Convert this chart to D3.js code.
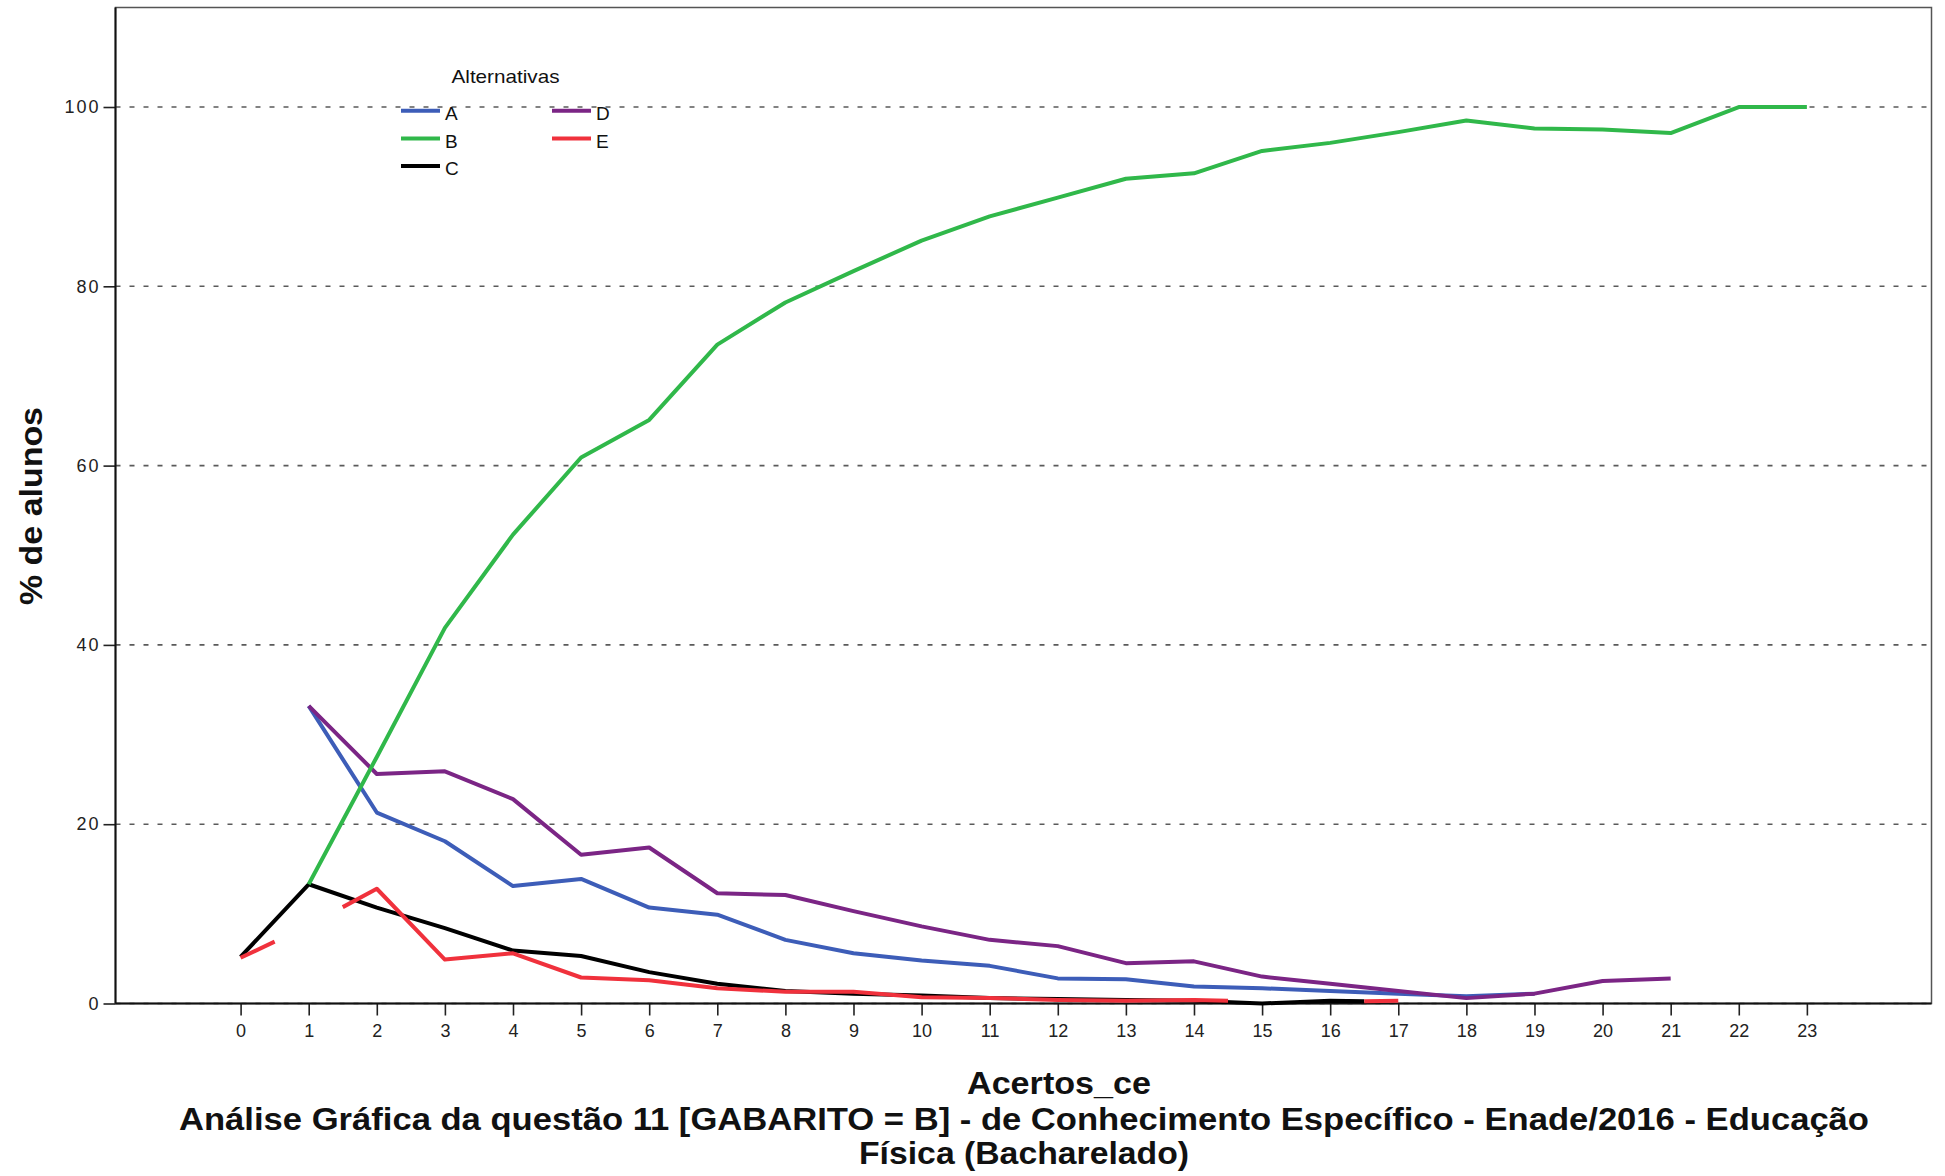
<!DOCTYPE html>
<html>
<head>
<meta charset="utf-8">
<script src="https://cdn.jsdelivr.net/npm/d3@7"></script>
<style>
  body { margin: 0; background: #fff; }
  svg { display: block; font-family: "Liberation Sans", Arial, sans-serif; }
</style>
</head>
<body>
<svg id="chart" width="1945" height="1176"></svg>
<script>
// Number of correct answers (Acertos_ce) on the x axis
const acertos = d3.range(0, 24);
const yTickValues = [0, 20, 40, 60, 80, 100];

// % of students choosing each alternative, per number of correct answers (null = no data)
const valuesA = [null, 33.2, 21.3, 18.1, 13.1, 13.9, 10.7, 9.9, 7.1, 5.6, 4.8, 4.2, 2.8, 2.7, 1.9, 1.7, 1.4, 1.1, 0.8, 1.1, null, null, null, null];
const valuesB = [null, 13.3, 27.5, 41.9, 52.3, 60.9, 65.1, 73.5, 78.2, 81.7, 85.1, 87.8, 89.9, 92.0, 92.6, 95.1, 96.0, 97.2, 98.5, 97.6, 97.5, 97.1, 100, 100];
const valuesC = [5.2, 13.3, 10.7, 8.4, 5.9, 5.3, 3.5, 2.2, 1.4, 1.1, 0.9, 0.6, 0.5, 0.4, 0.3, 0.0, 0.3, 0.2, null, null, null, null, null, null];
const valuesD = [null, 33.2, 25.6, 25.9, 22.8, 16.6, 17.4, 12.3, 12.1, 10.3, 8.6, 7.1, 6.4, 4.5, 4.7, 3.0, 2.2, 1.4, 0.6, 1.1, 2.5, 2.8, null, null];
const valuesE = [5.1, 8.7, 12.8, 4.9, 5.6, 2.9, 2.6, 1.7, 1.3, 1.3, 0.7, 0.6, 0.4, 0.3, 0.4, 0.2, 0.2, 0.3, null, null, null, null, null, null];

// Points whose marker is suppressed: only half of each adjoining segment is drawn
const hiddenC = [17];
const hiddenE = [1, 15, 16];

const legendTitle = "Alternativas";
const seriesNames = ["A", "B", "C", "D", "E"];

const colors = { A: "#3d5db8", B: "#30b84a", C: "#000000", D: "#7b2585", E: "#f0313c" };

const series = [
  { name: "A", values: valuesA, hidden: [] },
  { name: "B", values: valuesB, hidden: [] },
  { name: "C", values: valuesC, hidden: hiddenC },
  { name: "D", values: valuesD, hidden: [] },
  { name: "E", values: valuesE, hidden: hiddenE }
];

const xTitle = "Acertos_ce";
const yTitle = "% de alunos";
const titleLines = [
  "Análise Gráfica da questão 11 [GABARITO = B] - de Conhecimento Específico - Enade/2016 - Educação",
  "Física (Bacharelado)"
];

// ---- layout ----
const plot = { left: 115.5, right: 1931.5, top: 7.5, bottom: 1003.5 };

const x = d3.scaleLinear().domain([-1.837, 24.83]).range([plot.left, plot.right]);
const y = d3.scaleLinear().domain([0, 111.1]).range([plot.bottom, plot.top]);

const svg = d3.select("#chart");

// dashed horizontal grid
svg.append("g").selectAll("line").data(yTickValues).join("line")
  .attr("x1", plot.left).attr("x2", plot.right)
  .attr("y1", d => y(d)).attr("y2", d => y(d))
  .attr("stroke", "#5a5a5a").attr("stroke-width", 1.6)
  .attr("stroke-dasharray", "5,9");

// plot frame
svg.append("rect")
  .attr("x", plot.left).attr("y", plot.top)
  .attr("width", plot.right - plot.left).attr("height", plot.bottom - plot.top)
  .attr("fill", "none").attr("stroke", "#555").attr("stroke-width", 1.5);

// x axis
const xAxis = svg.append("g")
  .attr("transform", `translate(0,${plot.bottom})`)
  .call(d3.axisBottom(x).tickValues(acertos).tickFormat(d3.format("d"))
    .tickSize(12).tickSizeOuter(0).tickPadding(9));
xAxis.select(".domain").remove();
xAxis.selectAll(".tick line").attr("stroke", "#222").attr("stroke-width", 1.6);
xAxis.selectAll(".tick text").attr("font-size", 18).attr("fill", "#222")
  .attr("font-family", "Liberation Sans, Arial, sans-serif");

// y axis
const yAxis = svg.append("g")
  .attr("transform", `translate(${plot.left},0)`)
  .call(d3.axisLeft(y).tickValues(yTickValues).tickFormat(d3.format("d"))
    .tickSize(12).tickSizeOuter(0).tickPadding(3));
yAxis.select(".domain").remove();
yAxis.selectAll(".tick line").attr("stroke", "#222").attr("stroke-width", 1.6);
yAxis.selectAll(".tick text").attr("font-size", 18).attr("fill", "#222")
  .attr("letter-spacing", 2)
  .attr("font-family", "Liberation Sans, Arial, sans-serif");

// axis lines
svg.append("line").attr("x1", plot.left).attr("x2", plot.right)
  .attr("y1", plot.bottom).attr("y2", plot.bottom)
  .attr("stroke", "#111").attr("stroke-width", 2);
svg.append("line").attr("x1", plot.left).attr("x2", plot.left)
  .attr("y1", plot.top).attr("y2", plot.bottom)
  .attr("stroke", "#111").attr("stroke-width", 2);

// Build polylines from a value array, honouring gaps and suppressed points
function runs(values, hidden) {
  const out = [];
  let current = null;
  for (let i = 0; i < values.length - 1; i++) {
    const a = values[i], b = values[i + 1];
    if (a == null || b == null) { current = null; continue; }
    const ha = hidden.includes(i), hb = hidden.includes(i + 1);
    if (ha && hb) { current = null; continue; }
    let p0 = [i, a], p1 = [i + 1, b];
    if (ha) p0 = [i + 0.5, (a + b) / 2];
    if (hb) p1 = [i + 0.5, (a + b) / 2];
    if (current && !ha) {
      current.push(p1);
    } else {
      current = [p0, p1];
      out.push(current);
    }
    if (hb) current = null;
  }
  return out;
}

const line = d3.line().x(d => x(d[0])).y(d => y(d[1]));

const drawOrder = ["A", "D", "C", "E", "B"];
const linesG = svg.append("g");
drawOrder.forEach(name => {
  const s = series.find(t => t.name === name);
  linesG.append("g").selectAll("path").data(runs(s.values, s.hidden)).join("path")
    .attr("d", line)
    .attr("fill", "none")
    .attr("stroke", colors[name])
    .attr("stroke-width", 4)
    .attr("stroke-linejoin", "round");
});

// legend
const legend = svg.append("g");
legend.append("text").attr("x", 451.5).attr("y", 83)
  .attr("font-size", 19).attr("fill", "#111")
  .attr("textLength", 108).attr("lengthAdjust", "spacingAndGlyphs")
  .text(legendTitle);

const legendPos = { A: [401, 110.7], B: [401, 138.5], C: [401, 166], D: [552, 110.7], E: [552, 138.5] };
seriesNames.forEach(name => {
  const [lx, ly] = legendPos[name];
  legend.append("line").attr("x1", lx).attr("x2", lx + 39)
    .attr("y1", ly).attr("y2", ly)
    .attr("stroke", colors[name]).attr("stroke-width", 4);
  legend.append("text").attr("x", lx + 44).attr("y", ly + 9)
    .attr("font-size", 19).attr("fill", "#111").text(name);
});

// axis titles
svg.append("text")
  .attr("transform", `translate(42,506) rotate(-90)`)
  .attr("text-anchor", "middle")
  .attr("font-size", 31).attr("font-weight", "bold").attr("fill", "#111")
  .attr("textLength", 198).attr("lengthAdjust", "spacingAndGlyphs")
  .text(yTitle);

svg.append("text")
  .attr("x", 1059).attr("y", 1094)
  .attr("text-anchor", "middle")
  .attr("font-size", 31).attr("font-weight", "bold").attr("fill", "#111")
  .attr("textLength", 184).attr("lengthAdjust", "spacingAndGlyphs")
  .text(xTitle);

// chart title
const titleWidths = [1690, 330];
const titleBaselines = [1130, 1164];
titleLines.forEach((t, i) => {
  svg.append("text")
    .attr("x", 1024).attr("y", titleBaselines[i])
    .attr("text-anchor", "middle")
    .attr("font-size", 31).attr("font-weight", "bold").attr("fill", "#111")
    .attr("textLength", titleWidths[i]).attr("lengthAdjust", "spacingAndGlyphs")
    .text(t);
});
</script>
</body>
</html>
